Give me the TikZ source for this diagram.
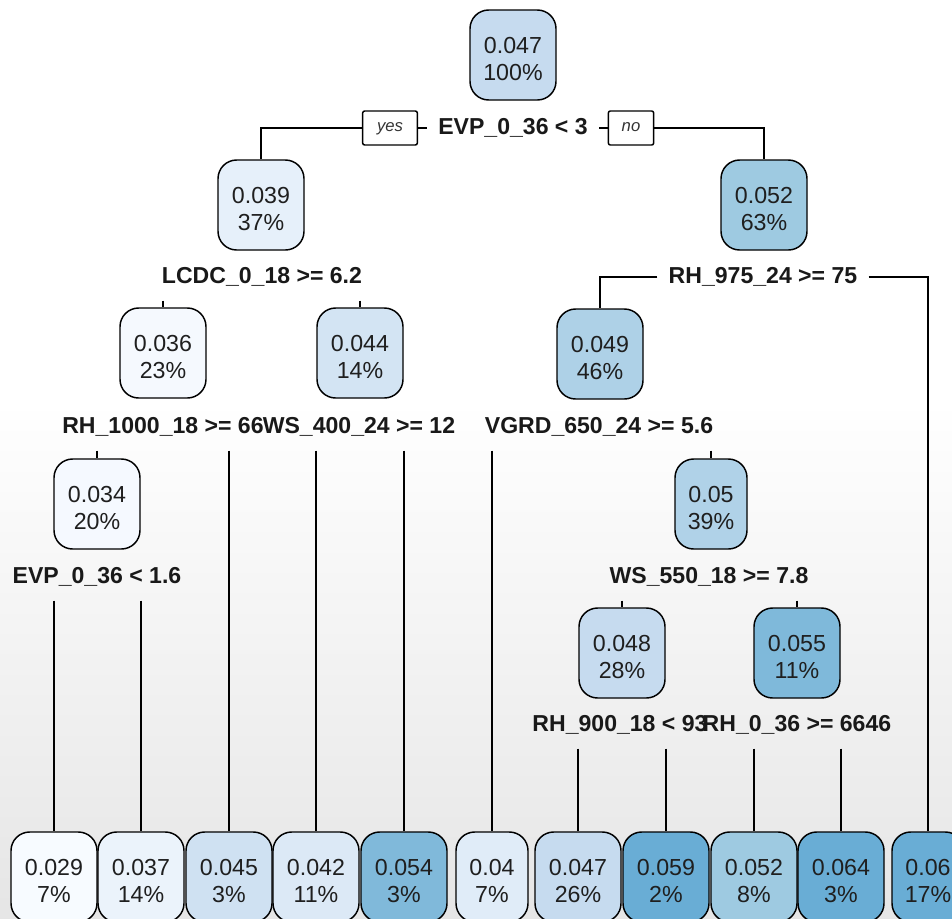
\documentclass[tikz,border=0pt]{standalone}
\usepackage{fontspec}
\setmainfont{Liberation Sans}
\usepackage{tikz}
\newcommand{\nodeval}[2]{\rule{0pt}{18.5pt}#1\\#2\%}
\tikzset{every picture/.style={line width=1.1pt}}
\tikzset{
rnode/.style={draw, rounded corners=14pt, align=center, minimum width=64.5pt, minimum height=67.5pt, inner sep=0pt, text=black!88, font=\fontsize{17.4}{20.25}\selectfont},
narrow/.style={minimum width=54pt},
splitlab/.style={inner xsep=8pt, inner ysep=9.25pt, text height=12.5pt, text depth=3.5pt, text=black!90, font=\fontsize{17.3}{20}\selectfont\bfseries},
yesno/.style={draw, rounded corners=1.5pt, minimum height=25.5pt, inner sep=0pt, text height=6.5pt, text depth=1pt, text=black!80, font=\fontsize{12.5}{15}\selectfont\itshape}}

\begin{document}
\begin{tikzpicture}[x=0.75pt,y=0.75pt,yscale=-1,xscale=1]
\clip (0,0) rectangle (952,918);
%Background
\fill [white] (0,0) rectangle (952,400);
\shade [top color=white, bottom color=black!10] (0,400) rectangle (952,918);

%Shape: Rounded Rect (inner nodes)
\draw (513,55) node [rnode, fill={rgb, 255:red, 198; green, 219; blue, 239 }] (n0) {\nodeval{0.047}{100}};
\draw (261,205) node [rnode, fill={rgb, 255:red, 230; green, 240; blue, 250 }] (n1) {\nodeval{0.039}{37}};
\draw (764,205) node [rnode, fill={rgb, 255:red, 158; green, 202; blue, 225 }] (n2) {\nodeval{0.052}{63}};
\draw (163,353) node [rnode, fill={rgb, 255:red, 245; green, 249; blue, 254 }] (n3) {\nodeval{0.036}{23}};
\draw (360,353) node [rnode, fill={rgb, 255:red, 211; green, 228; blue, 243 }] (n4) {\nodeval{0.044}{14}};
\draw (600,354) node [rnode, fill={rgb, 255:red, 174; green, 209; blue, 231 }] (n5) {\nodeval{0.049}{46}};
\draw (97,504) node [rnode, fill={rgb, 255:red, 245; green, 249; blue, 255 }] (n6) {\nodeval{0.034}{20}};
\draw (711,504) node [rnode, narrow, fill={rgb, 255:red, 176; green, 210; blue, 232 }] (n7) {\nodeval{0.05}{39}};
\draw (622,653) node [rnode, fill={rgb, 255:red, 198; green, 219; blue, 239 }] (n8) {\nodeval{0.048}{28}};
\draw (797,653) node [rnode, fill={rgb, 255:red, 127; green, 185; blue, 218 }] (n9) {\nodeval{0.055}{11}};

%Shape: Rounded Rect (leaves)
\draw (54,877) node [rnode, fill={rgb, 255:red, 247; green, 251; blue, 255 }] (l1) {\nodeval{0.029}{7}};
\draw (141,877) node [rnode, fill={rgb, 255:red, 235; green, 243; blue, 251 }] (l2) {\nodeval{0.037}{14}};
\draw (229,877) node [rnode, fill={rgb, 255:red, 207; green, 225; blue, 242 }] (l3) {\nodeval{0.045}{3}};
\draw (316,877) node [rnode, fill={rgb, 255:red, 220; green, 233; blue, 246 }] (l4) {\nodeval{0.042}{11}};
\draw (404,877) node [rnode, fill={rgb, 255:red, 128; green, 185; blue, 218 }] (l5) {\nodeval{0.054}{3}};
\draw (492,877) node [rnode, narrow, fill={rgb, 255:red, 224; green, 236; blue, 248 }] (l6) {\nodeval{0.04}{7}};
\draw (578,877) node [rnode, fill={rgb, 255:red, 198; green, 219; blue, 239 }] (l7) {\nodeval{0.047}{26}};
\draw (666,877) node [rnode, fill={rgb, 255:red, 105; green, 173; blue, 213 }] (l8) {\nodeval{0.059}{2}};
\draw (754,877) node [rnode, fill={rgb, 255:red, 158; green, 202; blue, 225 }] (l9) {\nodeval{0.052}{8}};
\draw (841,877) node [rnode, fill={rgb, 255:red, 105; green, 173; blue, 213 }] (l10) {\nodeval{0.064}{3}};
\draw (928,877) node [rnode, narrow, fill={rgb, 255:red, 105; green, 173; blue, 213 }] (l11) {\nodeval{0.06}{17}};

% Text Node
\draw (513,128) node [splitlab] (s0) {EVP\_0\_36 < 3};
% Text Node
\draw (390,128) node [yesno, fill=white, minimum width=41pt] (yes) {yes};
% Text Node
\draw (631,128) node [yesno, fill=white, minimum width=34pt] (no) {no};
% Text Node
\draw (262,277) node [splitlab] (s1) {LCDC\_0\_18 >= 6.2};
% Text Node
\draw (763,277) node [splitlab] (s2) {RH\_975\_24 >= 75};
% Text Node
\draw (163,427) node [splitlab] (s3a) {RH\_1000\_18 >= 66};
% Text Node
\draw (359,427) node [splitlab] (s3b) {WS\_400\_24 >= 12};
% Text Node
\draw (599,427) node [splitlab] (s3c) {VGRD\_650\_24 >= 5.6};
% Text Node
\draw (97,577) node [splitlab] (s4a) {EVP\_0\_36 < 1.6};
% Text Node
\draw (709,577) node [splitlab] (s4b) {WS\_550\_18 >= 7.8};
% Text Node
\draw (620,725) node [splitlab] (s5a) {RH\_900\_18 < 93};
% Text Node
\draw (797,725) node [splitlab] (s5b) {RH\_0\_36 >= 6646};

%Straight Lines
\draw (yes.west) -| (n1.north);
\draw (yes.east) -- (s0.west);
\draw (s0.east) -- (no.west);
\draw (no.east) -| (n2.north);
%Straight Lines
\draw (s1.south -| n3.north) -- (n3.north);
\draw (s1.south -| n4.north) -- (n4.north);
\draw (s2.west) -| (n5.north);
\draw (s2.east) -| (l11.north);
%Straight Lines
\draw (s3a.south -| n6.north) -- (n6.north);
\draw (s3a.south -| l3.north) -- (l3.north);
\draw (s3b.south -| l4.north) -- (l4.north);
\draw (s3b.south -| l5.north) -- (l5.north);
\draw (s3c.south -| l6.north) -- (l6.north);
\draw (s3c.south -| n7.north) -- (n7.north);
%Straight Lines
\draw (s4a.south -| l1.north) -- (l1.north);
\draw (s4a.south -| l2.north) -- (l2.north);
\draw (s4b.south -| n8.north) -- (n8.north);
\draw (s4b.south -| n9.north) -- (n9.north);
%Straight Lines
\draw (s5a.south -| l7.north) -- (l7.north);
\draw (s5a.south -| l8.north) -- (l8.north);
\draw (s5b.south -| l9.north) -- (l9.north);
\draw (s5b.south -| l10.north) -- (l10.north);
\end{tikzpicture}
\end{document}
